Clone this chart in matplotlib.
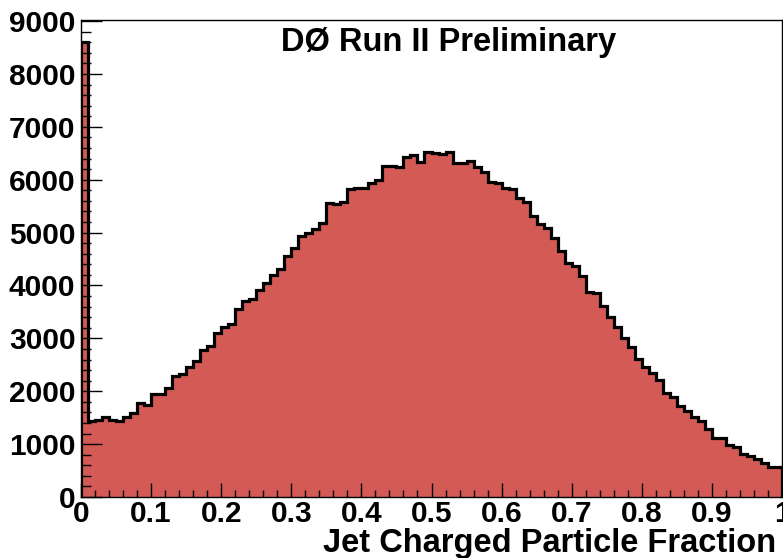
import matplotlib
matplotlib.use("Agg")
import matplotlib.pyplot as plt
import numpy as np
from matplotlib.ticker import MultipleLocator

# Bin edges: 100 bins from 0 to 1
bin_lo = 0.0
bin_hi = 1.0
n_bins = 100

counts = [
    8600, 1430, 1455, 1518, 1455, 1443, 1518, 1582, 1783, 1739,
    1941, 1945, 2067, 2287, 2319, 2464, 2577, 2779, 2854, 3106,
    3220, 3270, 3548, 3705, 3743, 3913, 4051, 4197, 4310, 4562,
    4713, 4940, 4997, 5060, 5174, 5552, 5539, 5570, 5822, 5847,
    5834, 5942, 5992, 6263, 6263, 6244, 6433, 6465, 6326, 6515,
    6505, 6484, 6528, 6320, 6307, 6358, 6244, 6150, 5961, 5942,
    5835, 5822, 5658, 5583, 5312, 5155, 5079, 4890, 4650, 4430,
    4367, 4178, 3882, 3850, 3611, 3409, 3220, 3000, 2830, 2603,
    2452, 2338, 2212, 1972, 1900, 1720, 1632, 1506, 1443, 1280,
    1121, 1121, 983, 951, 813, 781, 718, 649, 573, 561,
]

title_text = "DØ Run II Preliminary"
xlabel_text = "Jet Charged Particle Fraction"
x_tick_labels = ["0", "0.1", "0.2", "0.3", "0.4", "0.5", "0.6", "0.7", "0.8", "0.9", "1"]
y_tick_labels = ["0", "1000", "2000", "3000", "4000", "5000", "6000", "7000", "8000", "9000"]

edges = np.linspace(bin_lo, bin_hi, n_bins + 1)

fill_color = "#D45A56"
font = "Liberation Sans"
fs_tick = 21.5
fs_text = 23.5

fig = plt.figure(figsize=(7.83, 5.58), dpi=100)
ax = fig.add_axes([81 / 783, 1 - 497 / 558, 701 / 783, 477 / 558])

ax.stairs(counts, edges, fill=True, color=fill_color, baseline=0, zorder=1)
ax.stairs(counts, edges, fill=False, color="black", baseline=0, linewidth=2.3, zorder=2)

ax.set_xlim(bin_lo, bin_hi)
ax.set_ylim(0, 9020)

ax.set_xticks(np.arange(0, 1.0001, 0.1))
ax.set_xticklabels(x_tick_labels)
ax.set_yticks(np.arange(0, 9001, 1000))
ax.set_yticklabels(y_tick_labels)
ax.xaxis.set_minor_locator(MultipleLocator(0.02))
ax.yaxis.set_minor_locator(MultipleLocator(200))

ax.tick_params(axis="x", which="major", direction="in", length=10, width=1.0, pad=2)
ax.tick_params(axis="x", which="minor", direction="in", length=5, width=1.0)
ax.tick_params(axis="y", which="major", direction="in", length=15, width=1.0, pad=4)
ax.tick_params(axis="y", which="minor", direction="in", length=7.5, width=1.0)
ax.tick_params(top=False, right=False, which="both")

for lab in ax.get_xticklabels() + ax.get_yticklabels():
    lab.set_fontfamily(font)
    lab.set_fontweight("bold")
    lab.set_fontsize(fs_tick)

for sp in ax.spines.values():
    sp.set_linewidth(1.0)
    sp.set_zorder(3)

ax.set_axisbelow(False)

fig.text(449 / 783, 1 - 42 / 558, title_text, ha="center", va="center",
         fontfamily=font, fontweight="bold", fontsize=fs_text)
fig.text(776 / 783, 1 - 543.5 / 558, xlabel_text, ha="right", va="center",
         fontfamily=font, fontweight="bold", fontsize=fs_text)

fig.savefig("out.png", dpi=100)
